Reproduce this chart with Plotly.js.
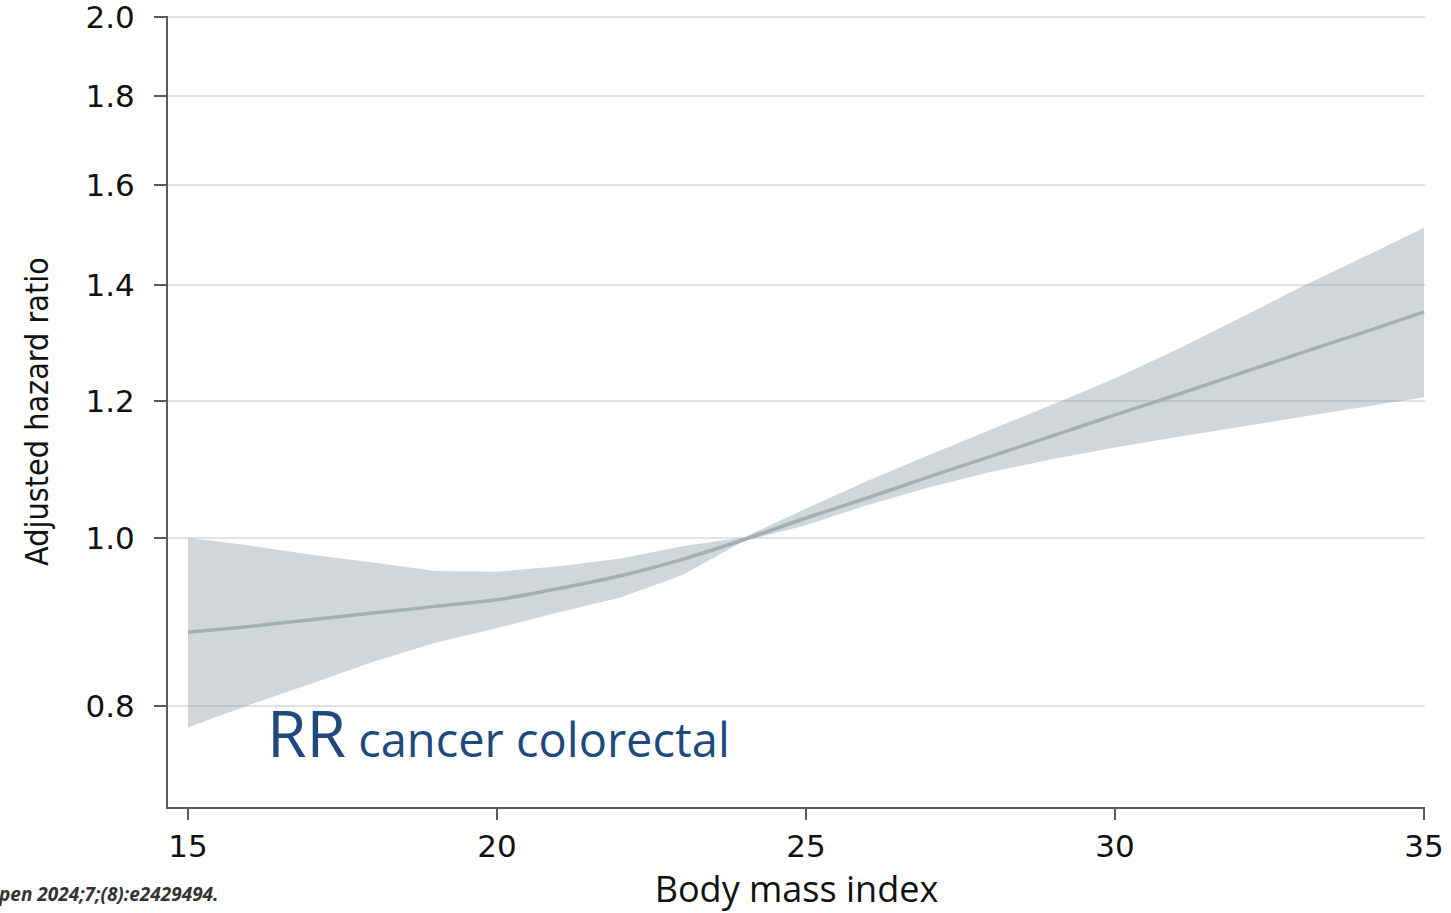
<!DOCTYPE html>
<html>
<head>
<meta charset="utf-8">
<script src="https://cdn.plot.ly/plotly-3.0.1.min.js"></script>
<style>
  html, body { margin: 0; padding: 0; background: #ffffff; }
  #chart { width: 1451px; height: 913px; }
</style>
</head>
<body>
<div id="chart"></div>
<script>
// Body mass index values
const bmi = [15, 16, 17, 18, 19, 20, 21, 22, 23, 24, 25, 26, 27, 28, 29, 30, 31, 32, 33, 34, 35];
// Adjusted hazard ratio (central estimate)
const hazardRatio = [0.882, 0.889, 0.897, 0.905, 0.913, 0.921, 0.935, 0.951, 0.972, 0.998, 1.027, 1.055, 1.085, 1.115, 1.146, 1.178, 1.210, 1.244, 1.279, 1.314, 1.351];
// 95% confidence band
const lowerCI = [0.777, 0.801, 0.824, 0.848, 0.870, 0.887, 0.906, 0.924, 0.952, 0.996, 1.017, 1.045, 1.070, 1.092, 1.111, 1.128, 1.144, 1.159, 1.175, 1.190, 1.206];
const upperCI = [1.000, 0.990, 0.978, 0.968, 0.957, 0.956, 0.963, 0.973, 0.989, 1.001, 1.040, 1.079, 1.117, 1.155, 1.195, 1.237, 1.285, 1.339, 1.396, 1.452, 1.511];
// Axis ticks
const xTickVals = [15, 20, 25, 30, 35];
const xTickText = ['15', '20', '25', '30', '35'];
const yTickVals = [0.8, 1.0, 1.2, 1.4, 1.6, 1.8, 2.0];
const yTickText = ['0.8', '1.0', '1.2', '1.4', '1.6', '1.8', '2.0'];
// Texts
const xTitle = 'Body mass index';
const yTitle = 'Adjusted hazard ratio';
const labelBig = 'RR';
const labelSmall = 'cancer colorectal';
const citation = 'pen 2024;7;(8):e2429494.';

const traces = [
  {
    x: bmi, y: lowerCI, type: 'scatter', mode: 'lines',
    line: { width: 0, color: 'rgba(0,0,0,0)' },
    hoverinfo: 'skip', showlegend: false
  },
  {
    x: bmi, y: upperCI, type: 'scatter', mode: 'lines',
    line: { width: 0, color: 'rgba(0,0,0,0)' },
    fill: 'tonexty', fillcolor: 'rgba(120,138,150,0.35)',
    hoverinfo: 'skip', showlegend: false
  },
  {
    x: bmi, y: hazardRatio, type: 'scatter', mode: 'lines',
    line: { width: 3.5, color: '#a3b0b0', shape: 'spline', smoothing: 0.6 },
    showlegend: false
  }
];

const layout = {
  width: 1451, height: 913,
  paper_bgcolor: '#ffffff', plot_bgcolor: '#ffffff',
  margin: { l: 168, r: 26, t: 16, b: 106 },
  showlegend: false,
  xaxis: {
    range: [14.676, 35.016],
    tickvals: xTickVals, ticktext: xTickText,
    ticks: 'outside', ticklen: 11, tickwidth: 2, tickcolor: '#5a5a5a',
    showline: true, linecolor: '#5a5a5a', linewidth: 2,
    showgrid: false, zeroline: false,
    tickfont: { family: 'DejaVu Sans', size: 31, color: '#111111' },
    title: { text: xTitle, font: { family: 'Open Sans', size: 36, color: '#111111' }, standoff: 24 },
    automargin: false
  },
  yaxis: {
    type: 'log',
    range: [-0.15549, 0.30172],
    tickvals: yTickVals, ticktext: yTickText,
    ticks: 'outside', ticklen: 12, tickwidth: 2, tickcolor: '#5a5a5a',
    ticklabelstandoff: 13,
    ticklabeloverflow: 'allow',
    showline: true, linecolor: '#5a5a5a', linewidth: 2,
    showgrid: true, gridcolor: '#e2e2e2', gridwidth: 2,
    zeroline: false,
    tickfont: { family: 'DejaVu Sans', size: 31, color: '#111111' },
    title: { text: yTitle, font: { family: 'DejaVu Sans Condensed, sans-serif', size: 32, color: '#111111' }, standoff: 27 },
    automargin: false
  },
  annotations: [
    {
      xref: 'paper', yref: 'paper', x: 0.077, y: 0.0948,
      xanchor: 'left', yanchor: 'middle', showarrow: false,
      text: '<span style="font-size:64px">' + labelBig + '</span> ' + labelSmall,
      font: { family: 'Open Sans', size: 47, color: '#1f497d' }
    },
    {
      xref: 'paper', yref: 'paper', x: -0.1365, y: -0.1099,
      xanchor: 'left', yanchor: 'middle', showarrow: false,
      text: '<b><i>' + citation + '</i></b>',
      font: { family: 'Open Sans', size: 19, color: '#333333' }
    }
  ]
};

Plotly.newPlot('chart', traces, layout, { displayModeBar: false, responsive: false });
</script>
</body>
</html>
